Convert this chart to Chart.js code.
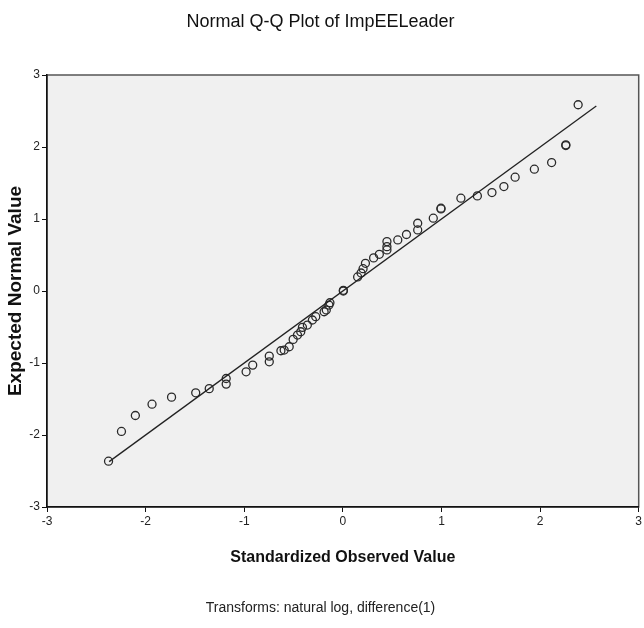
<!DOCTYPE html>
<html>
<head>
<meta charset="utf-8">
<script src="https://cdn.jsdelivr.net/npm/chart.js@4.4.0/dist/chart.umd.min.js"></script>
<style>
  html, body { margin: 0; padding: 0; background: #fff; }
  #wrap { width: 644px; height: 628px; }
</style>
</head>
<body>
<div id="wrap"><canvas id="qq"></canvas></div>
<script>
// Normal Q-Q Plot
var observado = [-2.376, -2.245, -2.104, -1.935, -1.737, -1.492, -1.355, -1.183, -1.183, -0.981,
  -0.914, -0.746, -0.746, -0.628, -0.595, -0.544, -0.504, -0.460, -0.427, -0.410,
  -0.360, -0.309, -0.275, -0.190, -0.168, -0.141, -0.131, 0.005, 0.005, 0.150,
  0.185, 0.205, 0.229, 0.312, 0.370, 0.447, 0.447, 0.447, 0.557, 0.645,
  0.759, 0.759, 0.917, 0.995, 0.995, 1.197, 1.364, 1.512, 1.633, 1.747,
  1.942, 2.117, 2.261, 2.261, 2.386];
var esperado = [-2.364, -1.951, -1.729, -1.572, -1.474, -1.414, -1.356, -1.293, -1.215, -1.122,
  -1.029, -0.983, -0.904, -0.830, -0.820, -0.774, -0.672, -0.612, -0.566, -0.505,
  -0.473, -0.403, -0.357, -0.288, -0.264, -0.195, -0.163, 0.000, 0.010, 0.195,
  0.250, 0.310, 0.385, 0.460, 0.510, 0.570, 0.616, 0.686, 0.709, 0.785,
  0.848, 0.941, 1.011, 1.140, 1.150, 1.289, 1.321, 1.367, 1.451, 1.581,
  1.692, 1.784, 2.020, 2.030, 2.587];
var linhaX = [-2.37, 2.57];
var linhaY = [-2.37, 2.57];
var ticks = [-3, -2, -1, 0, 1, 2, 3];

var fonte = "'Liberation Sans', Arial, sans-serif";

var pontos = observado.map(function (x, i) { return { x: x, y: esperado[i] }; });
var linha = linhaX.map(function (x, i) { return { x: x, y: linhaY[i] }; });

// fundo cinza e borda do plot
var fundo = {
  id: 'fundo',
  beforeDraw: function (chart) {
    var a = chart.chartArea, ctx = chart.ctx;
    ctx.save();
    ctx.fillStyle = '#f0f0f0';
    ctx.fillRect(a.left, a.top, a.right - a.left, a.bottom - a.top);
    ctx.strokeStyle = '#555';
    ctx.lineWidth = 1.5;
    ctx.strokeRect(a.left, a.top, a.right - a.left, a.bottom - a.top);
    ctx.restore();
  }
};

function fixar(h, w) {
  return function (scale) {
    if (h) scale.height = h;
    if (w) scale.width = w;
    scale.paddingLeft = 0; scale.paddingRight = 0;
    scale.paddingTop = 0; scale.paddingBottom = 0;
  };
}

new Chart(document.getElementById('qq'), {
  data: {
    datasets: [
      {
        type: 'scatter',
        data: pontos,
        pointStyle: 'circle',
        pointRadius: 4,
        pointBorderWidth: 1.3,
        pointBorderColor: '#2a2a2a',
        pointBackgroundColor: 'rgba(0,0,0,0)',
        order: 2
      },
      {
        type: 'line',
        data: linha,
        borderColor: '#222',
        borderWidth: 1.3,
        pointRadius: 0,
        fill: false,
        order: 1
      }
    ]
  },
  options: {
    responsive: true,
    maintainAspectRatio: false,
    animation: false,
    layout: { padding: { left: 0, right: 3, top: 0, bottom: 0 } },
    plugins: {
      legend: { display: false },
      tooltip: { enabled: false },
      title: {
        display: true,
        text: 'Normal Q-Q Plot of ImpEELeader',
        color: '#111',
        font: { family: fonte, size: 18, weight: 'normal' },
        padding: { top: 11.2, bottom: 42.2 }
      },
      subtitle: {
        display: true,
        position: 'bottom',
        text: 'Transforms: natural log, difference(1)',
        color: '#222',
        font: { family: fonte, size: 14, weight: 'normal' },
        padding: { top: 0, bottom: 11.6 }
      }
    },
    scales: {
      x: {
        type: 'linear',
        min: -3, max: 3,
        afterBuildTicks: function (s) { s.ticks = ticks.map(function (v) { return { value: v }; }); },
        afterFit: fixar(92.6, 0),
        grid: { display: true, drawOnChartArea: false, tickLength: 5, color: '#111', lineWidth: 1 },
        border: { display: true, color: '#111', width: 1.5 },
        ticks: { color: '#222', padding: 2, font: { family: fonte, size: 12 } },
        title: {
          display: true,
          text: 'Standardized Observed Value',
          color: '#111',
          font: { family: fonte, size: 16, weight: 'bold' },
          padding: { top: 0, bottom: 32 }
        }
      },
      y: {
        type: 'linear',
        min: -3, max: 3,
        afterBuildTicks: function (s) { s.ticks = ticks.map(function (v) { return { value: v }; }); },
        afterFit: fixar(0, 47),
        grid: { display: true, drawOnChartArea: false, tickLength: 5, color: '#111', lineWidth: 1 },
        border: { display: true, color: '#111', width: 1.5 },
        ticks: { color: '#222', padding: 2, font: { family: fonte, size: 12 } },
        title: {
          display: true,
          text: 'Expected Normal Value',
          color: '#111',
          font: { family: fonte, size: 19, weight: 'bold' },
          padding: { top: 4.6, bottom: 0 }
        }
      }
    }
  },
  plugins: [fundo]
});
</script>
</body>
</html>
